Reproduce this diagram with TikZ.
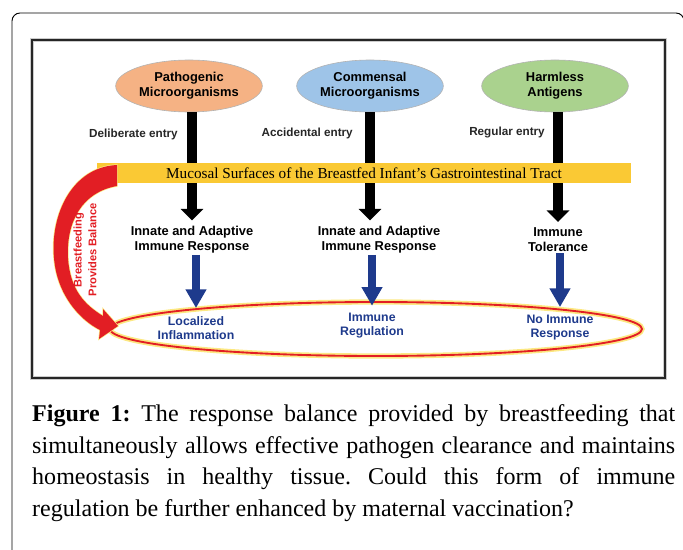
\documentclass[tikz,border=0pt]{standalone}
\usepackage{fontspec}
\setmainfont{Liberation Serif}
\newfontfamily\diagfont{Liberation Sans}
\usetikzlibrary{shapes.geometric, arrows.meta, positioning, calc}
\definecolor{pathorange}{RGB}{245, 178, 132}
\definecolor{commblue}{RGB}{158, 196, 232}
\definecolor{harmgreen}{RGB}{170, 210, 142}
\definecolor{mucyellow}{RGB}{250, 201, 52}
\definecolor{respblue}{RGB}{30, 58, 140}
\definecolor{balred}{RGB}{226, 30, 36}
\definecolor{glowyellow}{RGB}{252, 232, 130}
\frenchspacing

\begin{document}
\begin{tikzpicture}[x=0.3mm, y=-0.3mm,
  source/.style={ellipse, draw=black!30, line width=0.5pt, minimum width=44mm, minimum height=15.6mm,
    inner sep=0pt, align=center, font=\diagfont\fontsize{11}{12.5}\selectfont\bfseries},
  entrylabel/.style={anchor=east, inner sep=0pt, text=black!85, font=\diagfont\fontsize{10}{12}\selectfont\bfseries},
  response/.style={align=center, inner sep=1pt, font=\diagfont\fontsize{11}{12.6}\selectfont\bfseries},
  outcome/.style={align=center, inner sep=1pt, text=respblue, font=\diagfont\fontsize{10.5}{12}\selectfont\bfseries},
  entryarrow/.style={line width=8.5pt, black, -{Triangle[width=19pt, length=10pt]}},
  resparrow/.style={line width=6pt, respblue, -{Triangle[width=17pt, length=16pt]}},
]
  \useasboundingbox (0,0) rectangle (683,549);

  % Frames
  \draw[line width=0.8pt, rounded corners=2.4mm] (12,560) -- (12,13) -- (684,13) -- (684,560);
  \draw[line width=3pt, black!20] (32,40) rectangle (665,378);
  \draw[line width=1.6pt, black!85] (32,40) rectangle (665,378);

  % Sources
  \node[source, fill=pathorange] (pathogen) at (189,86) {Pathogenic\\Microorganisms};
  \node[source, fill=commblue] (commensal) at (370,86) {Commensal\\Microorganisms};
  \node[source, fill=harmgreen] (harmless) at (555,86) {Harmless\\Antigens};

  % Routes of entry
  \node[entrylabel] (deliberate) at (178,134) {Deliberate entry};
  \node[entrylabel] (accidental) at (353,133) {Accidental entry};
  \node[entrylabel] (regular) at (545,132) {Regular entry};

  % Responses
  \node[response] (innate1) at (192,240) {Innate and Adaptive\\Immune Response};
  \node[response] (innate2) at (379,240) {Innate and Adaptive\\Immune Response};
  \node[response] (tolerance) at (558,240) {Immune\\Tolerance};

  \draw[entryarrow, shorten >=4pt] (innate1.north |- pathogen.south) -- (innate1.north);
  \draw[entryarrow, shorten >=4pt] (commensal.south) -- (commensal.south |- innate2.north);
  \draw[entryarrow, shorten >=4pt] (tolerance.north |- harmless.south) -- (tolerance.north);

  % Mucosal band
  \node[fill=mucyellow, minimum width=160.2mm, minimum height=6mm, inner sep=0pt,
    font=\fontsize{13}{14}\selectfont] (mucosa) at (364,173)
    {Mucosal Surfaces of the Breastfed Infant's Gastrointestinal Tract};

  % Outcomes
  \node[ellipse, draw=balred, line width=1.6pt, preaction={draw=glowyellow, line width=4.5pt},
    minimum width=159.6mm, minimum height=16.2mm, inner sep=0pt] (balance) at (376,329) {};
  \node[outcome] (inflam) at (196,328) {Localized\\Inflammation};
  \node[outcome] (regulation) at (372,326) {Immune\\Regulation};
  \node[outcome] (noresponse) at (560,328) {No Immune\\Response};

  \draw[resparrow, shorten >=6pt] (inflam.north |- innate1.south) -- (inflam.north);
  \draw[resparrow, shorten >=-4pt] (regulation.north |- innate2.south) -- (regulation.north |- balance.north);
  \draw[resparrow, shorten >=6pt] (noresponse.north |- tolerance.south) -- (noresponse.north);

  % Breastfeeding arrow
  \fill[balred, preaction={draw=glowyellow, line width=1.2pt}]
    (117,165) .. controls (72,167) and (50,215) .. (54,258)
    .. controls (57,295) and (80,320) .. (100,330)
    -- (99,339) -- (118,326) -- (103,309) -- (103,316)
    .. controls (85,305) and (70,290) .. (68,258)
    .. controls (66,222) and (82,192) .. (117,186) -- cycle;
  \node[rotate=90, align=center, inner sep=0pt, text=balred,
    font=\diagfont\fontsize{9.5}{12.5}\selectfont\bfseries] (provides) at (85,250)
    {Breastfeeding\\Provides Balance};

  % Caption
  \node[anchor=north west, inner sep=0pt, text width=192.9mm, align=justify,
    font=\fontsize{20.5}{27.2}\selectfont] (caption) at (32,404)
    {\hyphenpenalty=10000 \textbf{Figure 1:} The response balance provided by breastfeeding that\linebreak
    simultaneously allows effective pathogen clearance and maintains\linebreak
    homeostasis in healthy tissue. Could this form of immune\linebreak
    regulation be further enhanced by maternal vaccination?};
\end{tikzpicture}
\end{document}
